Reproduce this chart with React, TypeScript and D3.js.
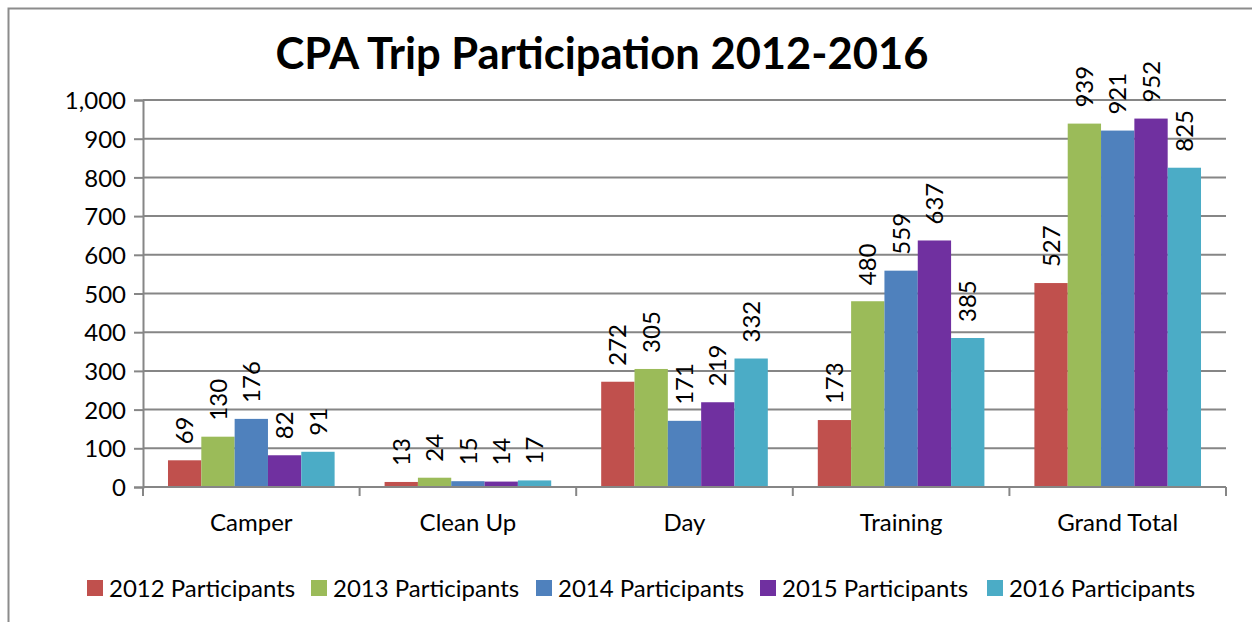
import React, { useEffect, useRef } from 'react';
import * as d3 from 'd3';

const categories = ['Camper', 'Clean Up', 'Day', 'Training', 'Grand Total'];
const seriesNames = ['2012 Participants', '2013 Participants', '2014 Participants', '2015 Participants', '2016 Participants'];
const p2012 = [69, 13, 272, 173, 527];
const p2013 = [130, 24, 305, 480, 939];
const p2014 = [176, 15, 171, 559, 921];
const p2015 = [82, 14, 219, 637, 952];
const p2016 = [91, 17, 332, 385, 825];
const colors = ['#C0504D', '#9BBB59', '#4F81BD', '#7030A0', '#4BACC6'];
const yTicks = [0, 100, 200, 300, 400, 500, 600, 700, 800, 900, 1000];

const FONT = 'Lato, "Open Sans", sans-serif';

const App = () => {
    const svgRef = useRef<SVGSVGElement>(null);

    useEffect(() => {
        const svg = d3.select(svgRef.current);
        svg.selectAll('*').remove();

        const allSeries = [p2012, p2013, p2014, p2015, p2016];
        const left = 143, right = 1226, top = 100, bottom = 487;

        // outer chart frame
        svg.append('rect')
            .attr('x', 8.5).attr('y', 8.5)
            .attr('width', 1400).attr('height', 800)
            .attr('fill', '#fff')
            .attr('stroke', '#8c8c8c')
            .attr('stroke-width', 2);

        svg.append('text')
            .attr('x', 602).attr('y', 69)
            .attr('text-anchor', 'middle')
            .attr('font-family', FONT)
            .attr('font-weight', 'bold')
            .attr('font-size', 43.5)
            .text('CPA Trip Participation 2012-2016');

        const x0 = d3.scaleBand().domain(categories).range([left, right]).paddingInner(0).paddingOuter(0);
        const x1 = d3.scaleBand().domain(seriesNames).range([0, x0.bandwidth()]).paddingInner(0).paddingOuter(0.75);
        const y = d3.scaleLinear().domain([0, 1000]).range([bottom, top]);

        // gridlines + y axis
        const yAxis = svg.append('g')
            .attr('transform', `translate(${left},0)`)
            .call(d3.axisLeft(y).tickValues(yTicks).tickSize(9).tickFormat(d3.format(',')));
        yAxis.select('.domain').attr('stroke', '#868686').attr('stroke-width', 2);
        yAxis.selectAll('.tick line').attr('stroke', '#868686').attr('stroke-width', 2);
        yAxis.selectAll('.tick text')
            .attr('font-family', FONT).attr('font-size', 24).attr('fill', '#000')
            .attr('x', -17).attr('dy', '0.36em');

        svg.append('g').selectAll('line')
            .data(yTicks.filter(d => d > 0))
            .join('line')
            .attr('x1', left).attr('x2', right)
            .attr('y1', d => y(d)).attr('y2', d => y(d))
            .attr('stroke', '#868686').attr('stroke-width', 2);

        // bars
        const groups = svg.append('g').selectAll('g')
            .data(categories)
            .join('g')
            .attr('transform', d => `translate(${x0(d)},0)`);

        seriesNames.forEach((name, si) => {
            groups.append('rect')
                .attr('x', x1(name))
                .attr('width', x1.bandwidth())
                .attr('y', (d, ci) => y(allSeries[si][ci]))
                .attr('height', (d, ci) => bottom - y(allSeries[si][ci]))
                .attr('fill', colors[si]);

            groups.append('text')
                .attr('transform', (d, ci) => `translate(${x1(name) + x1.bandwidth() / 2},${y(allSeries[si][ci]) - 16}) rotate(-90)`)
                .attr('dy', '0.36em')
                .attr('font-family', FONT).attr('font-size', 24)
                .text((d, ci) => allSeries[si][ci]);
        });

        // x axis
        const xAxis = svg.append('g')
            .attr('transform', `translate(0,${bottom})`);
        xAxis.append('line')
            .attr('x1', left).attr('x2', right)
            .attr('stroke', '#868686').attr('stroke-width', 2);
        xAxis.selectAll('line.tick')
            .data([...categories.map(c => x0(c)), right])
            .join('line')
            .attr('class', 'tick')
            .attr('x1', d => d).attr('x2', d => d)
            .attr('y1', 0).attr('y2', 9)
            .attr('stroke', '#868686').attr('stroke-width', 2);
        xAxis.selectAll('text')
            .data(categories)
            .join('text')
            .attr('x', d => x0(d) + x0.bandwidth() / 2)
            .attr('y', 35)
            .attr('dy', '0.36em')
            .attr('text-anchor', 'middle')
            .attr('font-family', FONT).attr('font-size', 24)
            .text(d => d);

        // legend
        const legend = svg.append('g').attr('transform', 'translate(87,588)');
        const itemX = [0, 224, 449, 673, 900];
        seriesNames.forEach((name, i) => {
            const item = legend.append('g').attr('transform', `translate(${itemX[i]},0)`);
            item.append('rect')
                .attr('x', 0).attr('y', -8)
                .attr('width', 16).attr('height', 16)
                .attr('fill', colors[i]);
            item.append('text')
                .attr('x', 22).attr('dy', '0.36em')
                .attr('font-family', FONT).attr('font-size', 24)
                .text(name);
        });
    }, []);

    return (
        <svg ref={svgRef} width={1252} height={622}
            style={{ position: 'absolute', left: 0, top: 0, display: 'block' }} />
    );
};

export default App;
